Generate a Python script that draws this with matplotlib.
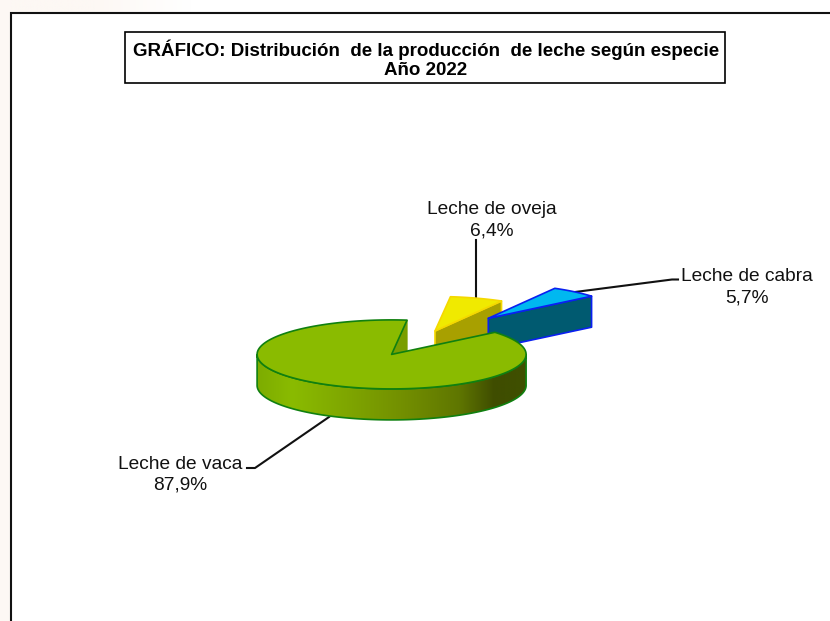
import numpy as np
import matplotlib
matplotlib.use("Agg")
import matplotlib.pyplot as plt
from matplotlib.colors import LinearSegmentedColormap
from matplotlib.patches import Polygon, Rectangle

plt.rcParams['font.family'] = ['Liberation Sans', 'DejaVu Sans']

# Data
categories = ["Leche de vaca", "Leche de oveja", "Leche de cabra"]
shares = [87.9, 6.4, 5.7]
share_labels = ["87,9%", "6,4%", "5,7%"]
title_lines = ["GRÁFICO: Distribución  de la producción  de leche según especie", "Año 2022"]

# Style / layout (pixel space of the 830x621 figure)
W, H = 830, 621
RX, RY, DEPTH = 134.5, 34.5, 31
START = 83.4
CENTERS = [(391.6, 354.4), (435.0, 331.0), (488.3, 318.3)]
TOPS = ["#8ABB00", "#F0EA00", "#00B8F0"]
WALLS = ["#7A9E00", "#A8A000", "#005A70"]
EDGES = ["#108010", "#F5D800", "#0A20F0"]
SIDE_STOPS = ["#7DAC00", "#8ABB00", "#7EA400", "#728E00", "#5F7600", "#3F4D00", "#3F5000"]
SIDE_POS = [0.0, 0.13, 0.35, 0.55, 0.75, 0.88, 1.0]

fig = plt.figure(figsize=(W / 100, H / 100), dpi=100, facecolor="white")
ax = fig.add_axes([0, 0, 1, 1])
ax.set_xlim(0, W)
ax.set_ylim(H, 0)
ax.axis("off")


def wedge_angles():
    """Clockwise from START: oveja, cabra, then vaca takes the rest of the circle."""
    a_ov = shares[1] / 100 * 360
    a_ca = shares[2] / 100 * 360
    a_va = shares[0] / 100 * 360
    s_ov = (START, START - a_ov)
    s_ca = (START - a_ov, START - a_ov - a_ca)
    s_va = (START - a_ov - a_ca, START - a_ov - a_ca - a_va)
    return [s_va, s_ov, s_ca]


def arc(c, t0, t1, n=200, dz=0):
    t = np.radians(np.linspace(t0, t1, n))
    return np.column_stack([c[0] + RX * np.cos(t), c[1] - RY * np.sin(t) + dz])


angles = wedge_angles()
LW = 1.2
LINE = 1.5

# Faint tinted margin outside the frame
tint = LinearSegmentedColormap.from_list("tint", ["#FDF8F4", "#FDF8F4", "#FFFFFF"])
ax.imshow(np.linspace(0, 1, 256).reshape(1, -1), cmap=tint, aspect="auto", zorder=0,
          extent=(0, 190, 13, 0))
ax.add_patch(Rectangle((0, 0), 10, H, fc="#FDF8F4", ec="none", zorder=0.5))
ax.set_xlim(0, W)
ax.set_ylim(H, 0)

# Frame: only top and left are inside the picture
ax.plot([W, 10.5, 10.5], [13, 13, H], color="#111111", lw=LINE, zorder=1, solid_joinstyle="miter")

# Leader lines (behind the pie)
ax.plot([476, 476], [240, 298], color="#111111", lw=LINE, zorder=1)
ax.plot([575, 672, 678], [292, 279.5, 279.5], color="#111111", lw=LINE, zorder=1)
ax.plot([329, 255, 247], [417, 468, 468], color="#111111", lw=LINE, zorder=1)

# Exploded small slices: wall first, then top
for i, z in ((1, 2), (2, 3)):
    c = CENTERS[i]
    t0, t1 = angles[i]
    p_end = arc(c, t1, t1, 1)[0]
    wall = np.array([c, p_end, p_end + [0, DEPTH], np.array(c) + [0, DEPTH]])
    ax.add_patch(Polygon(wall, fc=WALLS[i], ec=EDGES[i], lw=LW, joinstyle="round", zorder=z))
    top = np.vstack([[c], arc(c, t0, t1, 60)])
    ax.add_patch(Polygon(top, fc=TOPS[i], ec=EDGES[i], lw=LW, joinstyle="round", zorder=z))

# Main slice: start wall, gradient outer side, top
c = CENTERS[0]
t_end, t_start = angles[0]
p0 = arc(c, t_start, t_start, 1)[0]
wall = np.array([c, p0, p0 + [0, DEPTH], np.array(c) + [0, DEPTH]])
ax.add_patch(Polygon(wall, fc=WALLS[0], ec=WALLS[0], lw=0.8, zorder=4))

side_outline = np.vstack([arc(c, 180, 360, 200), arc(c, 360, 180, 200, dz=DEPTH)])
side = Polygon(side_outline, fc="none", ec=EDGES[0], lw=LW, zorder=5)
ax.add_patch(side)
cmap = LinearSegmentedColormap.from_list("side", list(zip(SIDE_POS, SIDE_STOPS)))
grad = np.linspace(0, 1, 512).reshape(1, -1)
im = ax.imshow(grad, cmap=cmap, aspect="auto", zorder=4.5,
               extent=(c[0] - RX, c[0] + RX, c[1] + RY + DEPTH + 1, c[1] - 1))
im.set_clip_path(side)
ax.set_xlim(0, W)
ax.set_ylim(H, 0)

top = np.vstack([[c], arc(c, t_end, t_start, 400)])
ax.add_patch(Polygon(top, fc=TOPS[0], ec=EDGES[0], lw=LW, joinstyle="round", zorder=6))

# Labels
FS = 13.8
TXT = "#111111"
for name, pct, x, y1, y2 in ((categories[0], share_labels[0], 180.5, 469, 490),
                             (categories[1], share_labels[1], 491.5, 214, 235.5),
                             (categories[2], share_labels[2], 747, 281, 302.5)):
    ax.text(x, y1, name, ha="center", va="baseline", fontsize=FS, color=TXT, zorder=8)
    ax.text(x, y2, pct, ha="center", va="baseline", fontsize=FS, color=TXT, zorder=8)

# Title box
ax.add_patch(Rectangle((125, 32), 600, 51, fc="white", ec="black", lw=1.2, zorder=8))
ax.text(426, 55.5, title_lines[0], ha="center", va="baseline", fontsize=13.5, fontweight="bold", zorder=9)
ax.text(426, 75, title_lines[1], ha="center", va="baseline", fontsize=13.5, fontweight="bold", zorder=9)

fig.savefig("out.png", dpi=100, facecolor="white")
